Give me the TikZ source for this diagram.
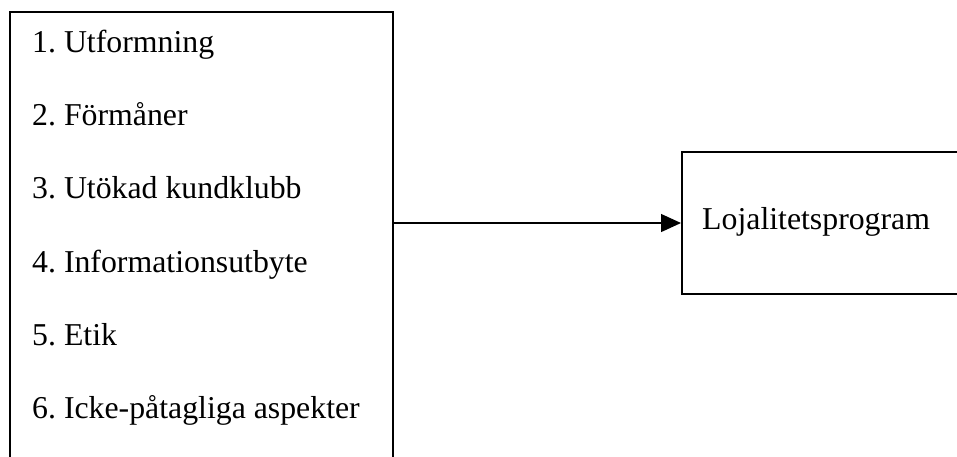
\documentclass[tikz,border=0pt]{standalone}
\usepackage{fontspec}
\setmainfont{Liberation Serif}
\usetikzlibrary{arrows.meta}
\frenchspacing

\begin{document}
\begin{tikzpicture}[x=1pt, y=-1pt,
  frame/.style={draw, line width=2pt, rectangle, inner sep=0pt},
  itemtext/.style={anchor=base west, inner sep=0pt, font=\fontsize{31.8}{36}\selectfont},
  link/.style={line width=1.3pt, -{Triangle[length=20pt, width=18pt]}}]
  \useasboundingbox (0,0) rectangle (957,456);
  \clip (0,0) rectangle (957,456);

  % list of factors (box runs off the bottom edge)
  \node[frame, minimum width=383pt, minimum height=470pt] (factors) at (201.5,247) {};
  \node[itemtext] (i1) at (32,52)  {1. Utformning};
  \node[itemtext] (i2) at (32,125) {2. Förmåner};
  \node[itemtext] (i3) at (32,198) {3. Utökad kundklubb};
  \node[itemtext] (i4) at (32,272) {4. Informationsutbyte};
  \node[itemtext] (i5) at (32,345) {5. Etik};
  \node[itemtext] (i6) at (32,418) {6. Icke-påtagliga aspekter};

  % target box (runs off the right edge)
  \node[frame, minimum width=300pt, minimum height=142pt] (prog) at (832,223) {};
  \node[itemtext] (progtext) at (702,229) {Lojalitetsprogram};

  \draw[link] (factors.east |- prog.west) -- (prog.west);
\end{tikzpicture}
\end{document}
